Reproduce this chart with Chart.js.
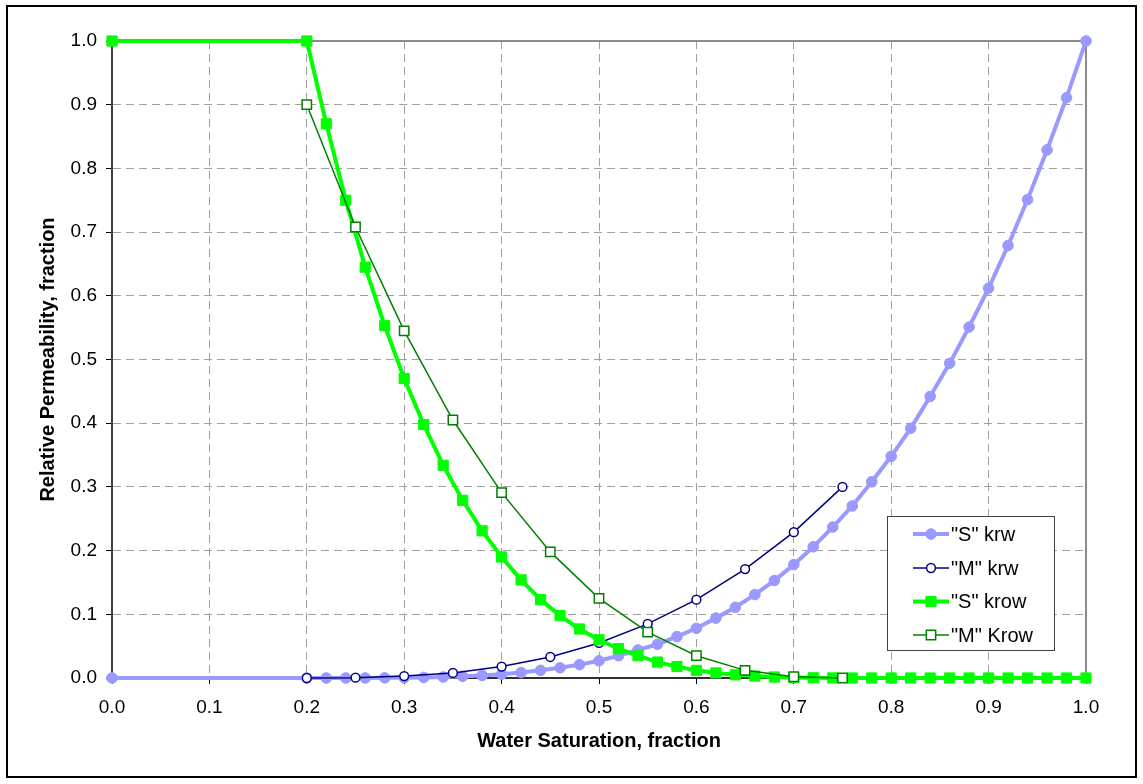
<!DOCTYPE html>
<html>
<head>
<meta charset="utf-8">
<title>Relative Permeability</title>
<script src="https://cdn.jsdelivr.net/npm/chart.js@4.4.1/dist/chart.umd.min.js"></script>
<style>
  html, body { margin: 0; padding: 0; background: #fff; }
  #wrap { width: 1143px; height: 784px; position: relative; }
  canvas { display: block; }
</style>
</head>
<body>
<div id="wrap"><canvas id="chart" width="1143" height="784"></canvas></div>
<script>
// Water saturation for the "S" curves (fraction)
const satS = [0, 0.20, 0.22, 0.24, 0.26, 0.28, 0.30, 0.32, 0.34, 0.36, 0.38, 0.40, 0.42, 0.44,
  0.46, 0.48, 0.50, 0.52, 0.54, 0.56, 0.58, 0.60, 0.62, 0.64, 0.66, 0.68, 0.70, 0.72, 0.74,
  0.76, 0.78, 0.80, 0.82, 0.84, 0.86, 0.88, 0.90, 0.92, 0.94, 0.96, 0.98, 1.00];
// "S" water relative permeability
const krwS = [0, 0, 0, 0, 0.0001, 0.0002, 0.0005, 0.0009, 0.0016, 0.0026, 0.004, 0.006, 0.0085, 0.012,
  0.016, 0.021, 0.027, 0.035, 0.044, 0.053, 0.065, 0.078, 0.094, 0.111, 0.131, 0.153, 0.178, 0.206, 0.237,
  0.270, 0.308, 0.348, 0.392, 0.442, 0.494, 0.551, 0.612, 0.679, 0.751, 0.829, 0.911, 1.000];
// "S" oil relative permeability (to water)
const krowS = [1, 1, 0.870, 0.750, 0.645, 0.553, 0.470, 0.398, 0.334, 0.279, 0.231, 0.190, 0.154, 0.123,
  0.098, 0.077, 0.060, 0.046, 0.035, 0.025, 0.018, 0.012, 0.008, 0.005, 0.003, 0.0016, 0.0007, 0.0003, 0.0001,
  0, 0, 0, 0, 0, 0, 0, 0, 0, 0, 0, 0, 0];

// Water saturation for the "M" curves (fraction)
const satM = [0.20, 0.25, 0.30, 0.35, 0.40, 0.45, 0.50, 0.55, 0.60, 0.65, 0.70, 0.75];
const krwM = [0, 0.0005, 0.003, 0.008, 0.018, 0.033, 0.055, 0.085, 0.123, 0.171, 0.229, 0.300];
const krowM = [0.900, 0.708, 0.545, 0.405, 0.291, 0.198, 0.125, 0.072, 0.035, 0.012, 0.002, 0];

const seriesNames = ['"S" krw', '"M" krw', '"S" krow', '"M" Krow'];
const axisTicks = [0, 0.1, 0.2, 0.3, 0.4, 0.5, 0.6, 0.7, 0.8, 0.9, 1.0];

const FONT = "'Liberation Sans', Arial, Helvetica, sans-serif";
Chart.defaults.font.family = FONT;
Chart.defaults.color = '#000';

const pairs = (xs, ys) => xs.map((x, i) => ({ x: x, y: ys[i] }));

const datasets = [
  {
    label: seriesNames[0], data: pairs(satS, krwS),
    borderColor: '#9999ff', backgroundColor: '#9999ff', borderWidth: 4,
    pointStyle: 'circle', pointRadius: 5.3, pointBackgroundColor: '#9999ff',
    pointBorderColor: '#9999ff', pointBorderWidth: 1, order: 4
  },
  {
    label: seriesNames[1], data: pairs(satM, krwM),
    borderColor: '#000080', backgroundColor: '#ffffff', borderWidth: 1.5,
    pointStyle: 'circle', pointRadius: 4.4, pointBackgroundColor: '#ffffff',
    pointBorderColor: '#000080', pointBorderWidth: 1.5, order: 3
  },
  {
    label: seriesNames[2], data: pairs(satS, krowS),
    borderColor: '#00ff00', backgroundColor: '#00ff00', borderWidth: 4,
    pointStyle: 'rect', pointRadius: 7.2, pointBackgroundColor: '#00ff00',
    pointBorderColor: '#00ff00', pointBorderWidth: 1, order: 2
  },
  {
    label: seriesNames[3], data: pairs(satM, krowM),
    borderColor: '#008000', backgroundColor: '#ffffff', borderWidth: 1.5,
    pointStyle: 'rect', pointRadius: 6.6, pointBackgroundColor: '#ffffff',
    pointBorderColor: '#008000', pointBorderWidth: 1.5, order: 1
  }
].map(d => Object.assign({ showLine: true, tension: 0, clip: false, pointHoverRadius: d.pointRadius }, d));

// Draws the page frame, the grey top/right plot edges and the boxed legend
const framePlugin = {
  id: 'framePlugin',
  beforeDraw(chart) {
    const ctx = chart.ctx;
    ctx.save();
    ctx.fillStyle = '#ffffff';
    ctx.fillRect(0, 0, chart.width, chart.height);
    ctx.restore();
  },
  beforeDatasetsDraw(chart) {
    const { ctx, chartArea: a } = chart;
    ctx.save();
    ctx.strokeStyle = '#8c8c8c';
    ctx.lineWidth = 2;
    ctx.beginPath();
    ctx.moveTo(a.left, a.top);
    ctx.lineTo(a.right, a.top);
    ctx.lineTo(a.right, a.bottom);
    ctx.stroke();
    ctx.restore();
  },
  afterDraw(chart) {
    const ctx = chart.ctx;
    ctx.save();
    // outer frame
    ctx.strokeStyle = '#000';
    ctx.lineWidth = 2;
    ctx.strokeRect(7, 6, 1129, 771);

    // legend box
    const bx = 887.5, by = 516.5, bw = 167, bh = 134;
    ctx.fillStyle = '#fff';
    ctx.fillRect(bx, by, bw, bh);
    ctx.strokeStyle = '#404040';
    ctx.lineWidth = 1;
    ctx.strokeRect(bx, by, bw, bh);

    const x0 = 913, x1 = 949, mx = 931, tx = 951;
    const rowY = [534, 568, 601.5, 635];
    ctx.font = '20px ' + FONT;
    ctx.textBaseline = 'middle';
    ctx.textAlign = 'left';
    chart.data.datasets.forEach((d, i) => {
      const y = rowY[i];
      ctx.strokeStyle = d.borderColor;
      ctx.lineWidth = d.borderWidth;
      ctx.beginPath();
      ctx.moveTo(x0, y);
      ctx.lineTo(x1, y);
      ctx.stroke();
      ctx.fillStyle = d.pointBackgroundColor;
      ctx.strokeStyle = d.pointBorderColor;
      ctx.lineWidth = d.pointBorderWidth;
      ctx.beginPath();
      if (d.pointStyle === 'rect') {
        const s = d.pointRadius * Math.SQRT1_2;
        ctx.rect(mx - s, y - s, 2 * s, 2 * s);
      } else {
        ctx.arc(mx, y, d.pointRadius, 0, Math.PI * 2);
      }
      ctx.fill();
      ctx.stroke();
      ctx.fillStyle = '#000';
      ctx.fillText(d.label, tx, y + 1);
    });
    ctx.restore();
  }
};

const tickFmt = v => Number(v).toFixed(1);

new Chart(document.getElementById('chart'), {
  type: 'scatter',
  data: { datasets: datasets },
  plugins: [framePlugin],
  options: {
    responsive: false,
    animation: false,
    events: [],
    layout: { padding: { top: 41, right: 57, left: 0, bottom: 0 } },
    plugins: {
      legend: { display: false },
      tooltip: { enabled: false }
    },
    scales: {
      x: {
        type: 'linear',
        min: axisTicks[0],
        max: axisTicks[axisTicks.length - 1],
        afterBuildTicks: s => { s.ticks = axisTicks.map(v => ({ value: v })); },
        afterFit: s => { s.height = 106; },
        ticks: { callback: tickFmt, font: { size: 19 }, color: '#000', padding: 12, maxRotation: 0 },
        grid: { color: '#a0a0a0', lineWidth: 1, tickLength: 6, tickColor: '#000', tickWidth: 1, tickBorderDash: [] },
        border: { display: true, color: '#303030', width: 2, dash: [8, 5] },
        title: {
          display: true, text: 'Water Saturation, fraction', color: '#000',
          font: { size: 20, weight: 'bold' }, padding: { top: 0, bottom: 31 }
        }
      },
      y: {
        type: 'linear',
        min: axisTicks[0],
        max: axisTicks[axisTicks.length - 1],
        afterBuildTicks: s => { s.ticks = axisTicks.map(v => ({ value: v })); },
        afterFit: s => { s.width = 112; },
        ticks: { callback: tickFmt, font: { size: 19 }, color: '#000', padding: 9 },
        grid: { color: '#a0a0a0', lineWidth: 1, tickLength: 6, tickColor: '#000', tickWidth: 1, tickBorderDash: [] },
        border: { display: true, color: '#404040', width: 2, dash: [8, 5] },
        title: {
          display: true, text: 'Relative Permeability, fraction', color: '#000',
          font: { size: 20, weight: 'bold' }, padding: { top: 36, bottom: 0 }
        }
      }
    }
  }
});
</script>
</body>
</html>
